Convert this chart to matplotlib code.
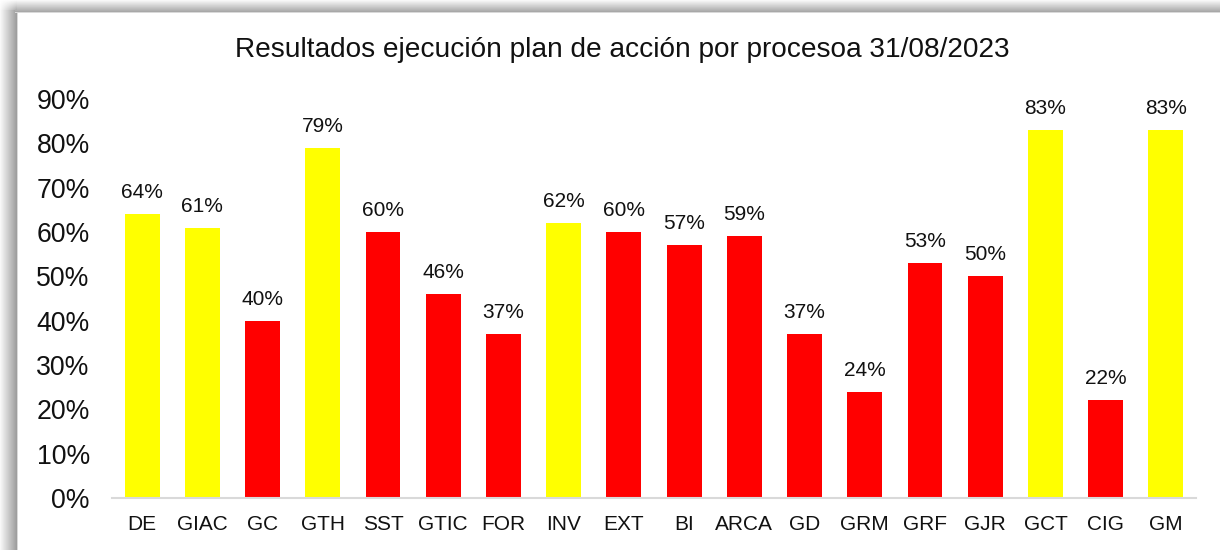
import numpy as np
import matplotlib
matplotlib.use("Agg")
import matplotlib.pyplot as plt
from matplotlib.ticker import FuncFormatter

plt.rcParams["font.family"] = ["Liberation Sans", "DejaVu Sans"]

# --- data ---
procesos = ["DE", "GIAC", "GC", "GTH", "SST", "GTIC", "FOR", "INV", "EXT",
            "BI", "ARCA", "GD", "GRM", "GRF", "GJR", "GCT", "CIG", "GM"]
ejecucion = [64, 61, 40, 79, 60, 46, 37, 62, 60,
             57, 59, 37, 24, 53, 50, 83, 22, 83]
estado = ["amarillo", "amarillo", "rojo", "amarillo", "rojo", "rojo", "rojo", "amarillo", "rojo",
          "rojo", "rojo", "rojo", "rojo", "rojo", "rojo", "amarillo", "rojo", "amarillo"]
y_ticks = [0, 10, 20, 30, 40, 50, 60, 70, 80, 90]

titulo = "Resultados ejecución plan de acción por procesoa 31/08/2023"
colores = {"amarillo": "#FFFF00", "rojo": "#FF0000"}

W, H = 1220, 550
fig = plt.figure(figsize=(W / 100, H / 100), dpi=100)

# shadowed frame behind the chart panel (left and top edges)
bg = fig.add_axes([0, 0, 1, 1], zorder=-10)
img = np.ones((H, W))
left_w, top_h = 19, 14
ramp_x = np.linspace(0.97, 0.62, left_w - 2)
ramp_y = np.linspace(0.97, 0.66, top_h - 2)
img[top_h - 4:, :left_w - 2] = ramp_x[None, :]
img[top_h - 4:, left_w - 2] = 0.85
img[:top_h - 2, left_w - 4:] = ramp_y[:, None]
img[top_h - 2, left_w - 4:] = 0.85
for i in range(top_h - 4):
    img[i, :left_w - 2] = np.clip(1 - (1 - ramp_x) * (1 - ramp_y[i]) / 0.35, 0.6, 1)
img[top_h - 1:, left_w - 1:] = 1.0
bg.imshow(img, cmap="gray", vmin=0, vmax=1, aspect="auto",
          extent=[0, W, H, 0], interpolation="nearest")
bg.set_xlim(0, W)
bg.set_ylim(H, 0)
bg.axis("off")

ax = fig.add_axes([112 / W, 52 / H, (1196 - 112) / W, (498 - 99) / H])
x = np.arange(len(procesos))
ax.bar(x, ejecucion, width=0.58, color=[colores[e] for e in estado], zorder=2)

for xi, v in zip(x, ejecucion):
    ax.annotate(f"{v}%", (xi, v), xytext=(0, 11.5), textcoords="offset points",
                ha="center", va="baseline", fontsize=15, color="#111111")

ax.set_xlim(-0.5, len(procesos) - 0.5)
ax.set_ylim(0, 90)
ax.set_yticks(y_ticks)
ax.yaxis.set_major_formatter(FuncFormatter(lambda v, _: f"{v:.0f}%"))
ax.set_xticks(x)
ax.set_xticklabels(procesos)
ax.tick_params(axis="y", length=0, pad=16, labelsize=19.2, labelcolor="#111111")
ax.tick_params(axis="x", length=0, pad=12, labelsize=15, labelcolor="#111111")

for s in ["left", "right", "top"]:
    ax.spines[s].set_visible(False)
ax.spines["bottom"].set_color("#D9D9D9")
ax.spines["bottom"].set_linewidth(1.5)
ax.set_facecolor("none")

fig.text(622 / W, 1 - 50 / H, titulo, ha="center", va="center",
         fontsize=20.2, color="#111111")

fig.savefig("out.png", dpi=100)
